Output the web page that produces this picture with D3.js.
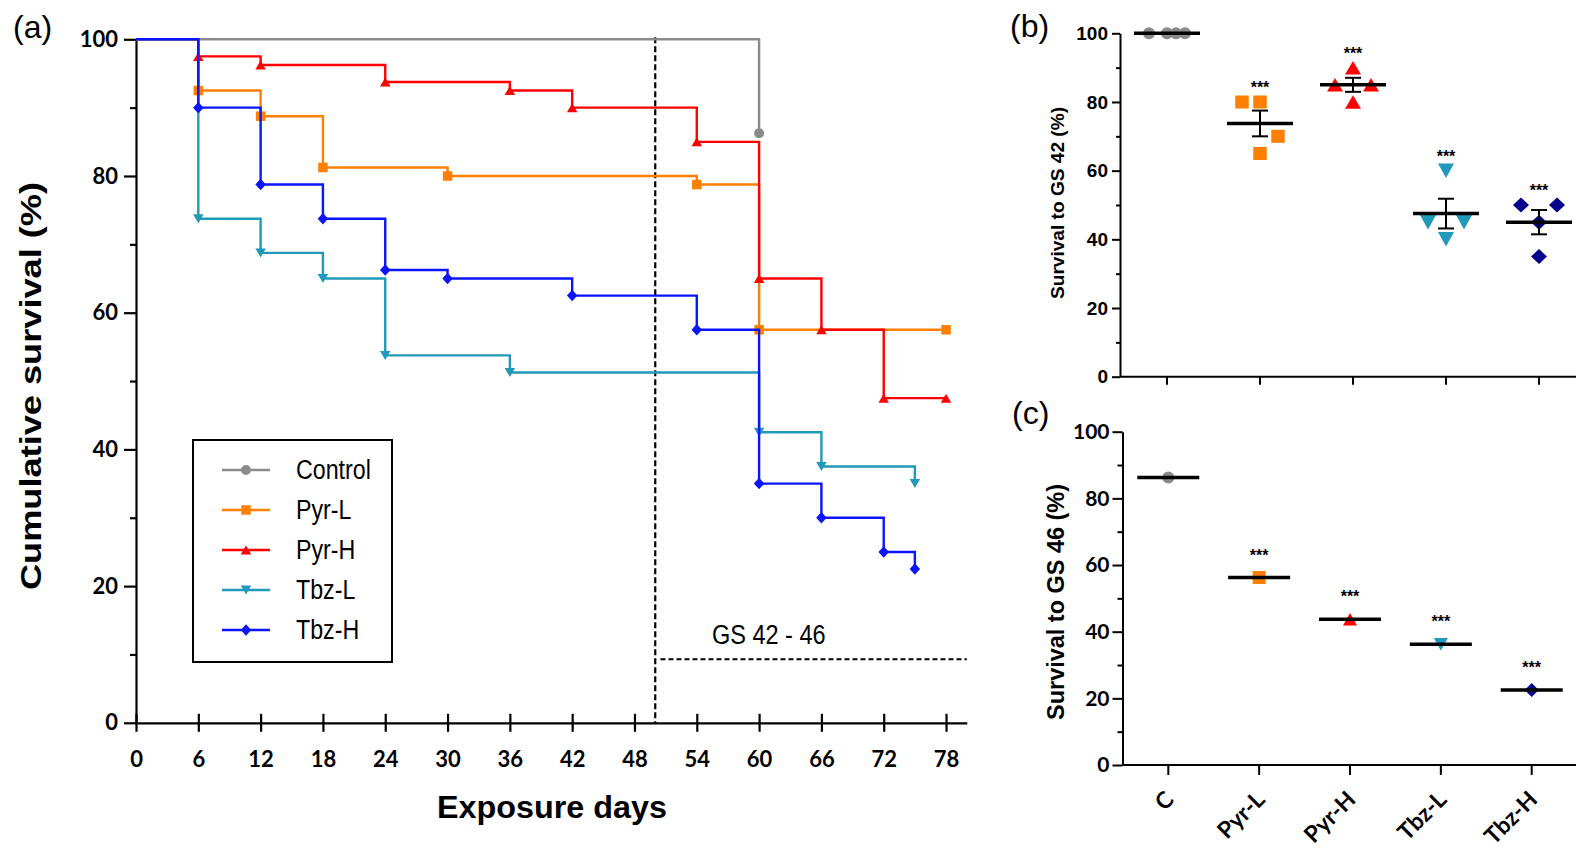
<!DOCTYPE html>
<html><head><meta charset="utf-8">
<script src="https://cdn.jsdelivr.net/npm/d3@7"></script>
<style>body{margin:0;background:#fff} svg{display:block}</style>
</head><body>
<svg id="chart" width="1576" height="848"></svg>
<script>
// ---------------- DATA ----------------
const seriesNames = ["Control", "Pyr-L", "Pyr-H", "Tbz-L", "Tbz-H"];
const controlDays = [0, 60];
const controlSurv = [100, 86.25];
const pyrLDays = [0, 6, 12, 18, 30, 54, 60, 78];
const pyrLSurv = [100, 92.5, 88.75, 81.25, 80, 78.75, 57.5, 57.5];
const pyrHDays = [0, 6, 12, 24, 36, 42, 54, 60, 66, 72, 78];
const pyrHSurv = [100, 97.5, 96.25, 93.75, 92.5, 90, 85, 65, 57.5, 47.5, 47.5];
const tbzLDays = [0, 6, 12, 18, 24, 36, 60, 66, 75];
const tbzLSurv = [100, 73.75, 68.75, 65, 53.75, 51.25, 42.5, 37.5, 35];
const tbzHDays = [0, 6, 12, 18, 24, 30, 42, 54, 60, 66, 72, 75];
const tbzHSurv = [100, 90, 78.75, 73.75, 66.25, 65, 62.5, 57.5, 35, 30, 25, 22.5];
const dayTicks = [0, 6, 12, 18, 24, 30, 36, 42, 48, 54, 60, 66, 72, 78];
const survTicks = [0, 20, 40, 60, 80, 100];
const gsStartDay = 50;
const gsLabel = "GS 42 - 46";

const groups = ["C", "Pyr-L", "Pyr-H", "Tbz-L", "Tbz-H"];
const gs42C = [100, 100, 100, 100];
const gs42PyrL = [80, 80, 70, 65];
const gs42PyrH = [90, 85, 85, 80];
const gs42TbzL = [60, 45, 45, 40];
const gs42TbzH = [50, 50, 45, 35];
// jitter slots (GraphPad scatter spreading of replicate points)
const slotsC = [-1, 0, 0.5, 1];
const slotsPyrL = [-1, 0, 1, 0];
const slotsPyrH = [0, -1, 1, 0];
const slotsTbzL = [0, -1, 1, 0];
const slotsTbzH = [-1, 1, 0, 0];
const gs46 = [86.25, 56.25, 43.75, 36.25, 22.5];
const sigLabels = ["", "***", "***", "***", "***"];

// ---------------- STYLE ----------------
const colorsA = ["#8a8a8a", "#ff8000", "#ff0000", "#2199b8", "#0a14ff"];
const colorsBC = ["#8a8a8a", "#ff8000", "#ff0000", "#2199b8", "#00008b"];
const shapes = ["circle", "square", "triUp", "triDown", "diamond"];
const ARIAL = "'Liberation Sans', Arial, Helvetica, sans-serif";
const CAL = "Lato, 'Open Sans', 'Liberation Sans', sans-serif";

function shapePath(type, w, h) {
  const a = w / 2, b = h / 2;
  switch (type) {
    case "circle": return `M${a},0A${a},${a} 0 1,1 ${-a},0A${a},${a} 0 1,1 ${a},0Z`;
    case "square": return `M${-a},${-b}H${a}V${b}H${-a}Z`;
    case "triUp": return `M0,${-b}L${a},${b}L${-a},${b}Z`;
    case "triDown": return `M0,${b}L${a},${-b}L${-a},${-b}Z`;
    case "diamond": return `M0,${-b}L${a},0L0,${b}L${-a},0Z`;
  }
}
function condense(sel, f) {
  sel.each(function () {
    const w = this.getComputedTextLength();
    d3.select(this).attr("textLength", w * f).attr("lengthAdjust", "spacingAndGlyphs");
  });
}

const svg = d3.select("#chart");

// ================= PANEL (a) =================
const xA = d3.scaleLinear().domain([0, 80]).range([136, 966.8]);
const yA = d3.scaleLinear().domain([0, 100]).range([722.8, 39.3]);
const gA = svg.append("g");

const kmSeries = [
  { days: controlDays, surv: controlSurv },
  { days: pyrLDays, surv: pyrLSurv },
  { days: pyrHDays, surv: pyrHSurv },
  { days: tbzLDays, surv: tbzLSurv },
  { days: tbzHDays, surv: tbzHSurv }
];

// y axis
const yAxisA = d3.axisLeft(yA).tickValues(survTicks).tickSize(12).tickSizeOuter(0).tickPadding(6);
const gya = gA.append("g").attr("transform", `translate(${xA(0)},0)`).call(yAxisA);
gya.selectAll("text").attr("font-family", CAL).attr("font-weight", 700).attr("font-size", 22).attr("fill", "#000");
const gyaMin = gA.append("g").attr("transform", `translate(${xA(0)},0)`)
  .call(d3.axisLeft(yA).tickValues([10, 30, 50, 70, 90]).tickSize(6).tickFormat(""));
gyaMin.select(".domain").remove();

// x axis
const xAxisA = d3.axisBottom(xA).tickValues(dayTicks).tickSize(9).tickSizeOuter(0).tickPadding(0);
const gxa = gA.append("g").attr("transform", `translate(0,${yA(0)})`).call(xAxisA);
gxa.selectAll(".tick line").attr("y1", -9).attr("y2", 9);
gxa.selectAll("text").attr("font-family", CAL).attr("font-weight", 700).attr("font-size", 22)
  .attr("fill", "#000").attr("y", 44.5).attr("dy", null);
[gya, gyaMin, gxa].forEach(g => {
  g.selectAll("line,path").attr("stroke", "#000").attr("stroke-width", 2.2);
});

// dashed GS lines
gA.append("line").attr("x1", xA(gsStartDay)).attr("x2", xA(gsStartDay))
  .attr("y1", yA(100) - 2).attr("y2", yA(0))
  .attr("stroke", "#000").attr("stroke-width", 2.2).attr("stroke-dasharray", "6,3");
gA.append("line").attr("x1", xA(gsStartDay + 0.5)).attr("x2", xA(80))
  .attr("y1", yA(9.3)).attr("y2", yA(9.3))
  .attr("stroke", "#000").attr("stroke-width", 2).attr("stroke-dasharray", "5,3");
const gsT = gA.append("text").attr("x", 712).attr("y", 644).attr("font-family", ARIAL)
  .attr("font-size", 27).attr("fill", "#000").text(gsLabel);
condense(gsT, 0.87);

// lines
const lineA = d3.line().x(d => xA(d[0])).y(d => yA(d[1])).curve(d3.curveStepAfter);
const markerSizeA = [[10, 10], [9.5, 9.5], [10.5, 9], [10.5, 9], [10.5, 11.5]];
kmSeries.forEach((s, i) => {
  const pts = s.days.map((d, j) => [d, s.surv[j]]);
  gA.append("path").datum(pts).attr("d", lineA).attr("fill", "none")
    .attr("stroke", colorsA[i]).attr("stroke-width", 2.4);
  gA.selectAll(null).data(pts.slice(1)).enter().append("path")
    .attr("d", shapePath(shapes[i], markerSizeA[i][0], markerSizeA[i][1]))
    .attr("transform", d => `translate(${xA(d[0])},${yA(d[1])})`)
    .attr("fill", colorsA[i]);
});

// legend
const leg = gA.append("g");
leg.append("rect").attr("x", 193).attr("y", 440).attr("width", 199).attr("height", 222)
  .attr("fill", "#fff").attr("stroke", "#000").attr("stroke-width", 2);
seriesNames.forEach((n, i) => {
  const y = 470 + i * 40;
  leg.append("line").attr("x1", 222).attr("x2", 270).attr("y1", y).attr("y2", y)
    .attr("stroke", colorsA[i]).attr("stroke-width", 2.5);
  leg.append("path").attr("d", shapePath(shapes[i], markerSizeA[i][0], markerSizeA[i][1]))
    .attr("transform", `translate(246,${y})`).attr("fill", colorsA[i]);
  const t = leg.append("text").attr("x", 296).attr("y", y + 9).attr("font-family", ARIAL)
    .attr("font-size", 27).attr("fill", "#000").text(n);
  condense(t, 0.86);
});

// axis titles
gA.append("text").attr("transform", `translate(41,386) rotate(-90)`).attr("text-anchor", "middle")
  .attr("font-family", ARIAL).attr("font-weight", 700).attr("font-size", 29)
  .attr("textLength", 408).attr("lengthAdjust", "spacingAndGlyphs")
  .text("Cumulative survival (%)");
gA.append("text").attr("x", 552).attr("y", 818).attr("text-anchor", "middle")
  .attr("font-family", ARIAL).attr("font-weight", 700).attr("font-size", 31)
  .attr("textLength", 230).attr("lengthAdjust", "spacingAndGlyphs")
  .text("Exposure days");
svg.append("text").attr("x", 13).attr("y", 38).attr("font-family", ARIAL).attr("font-size", 32).text("(a)");

// ================= PANEL (b) =================
const yB = d3.scaleLinear().domain([0, 100]).range([376.7, 33.3]);
const xB = d3.scalePoint().domain(groups).range([1167, 1539]);
const axB = 1120, jit = 18;
const gB = svg.append("g");
const gyb = gB.append("g").attr("transform", `translate(${axB},0)`)
  .call(d3.axisLeft(yB).tickValues(survTicks).tickSize(8).tickSizeOuter(0).tickPadding(4));
gyb.selectAll("text").attr("font-family", ARIAL).attr("font-weight", 700).attr("font-size", 19).attr("fill", "#000");
const gybm = gB.append("g").attr("transform", `translate(${axB},0)`)
  .call(d3.axisLeft(yB).tickValues([10, 30, 50, 70, 90]).tickSize(4).tickFormat(""));
gybm.select(".domain").remove();
gB.append("line").attr("x1", axB).attr("x2", 1576).attr("y1", yB(0)).attr("y2", yB(0));
gB.selectAll(null).data(groups).enter().append("line")
  .attr("x1", d => xB(d)).attr("x2", d => xB(d)).attr("y1", yB(0)).attr("y2", yB(0) + 8);
gB.selectAll("line,path").attr("stroke", "#000").attr("stroke-width", 2);

const gs42Data = [gs42C, gs42PyrL, gs42PyrH, gs42TbzL, gs42TbzH];
const slots = [slotsC, slotsPyrL, slotsPyrH, slotsTbzL, slotsTbzH];
const markerSizeB = [[12, 12], [13.5, 13], [16, 13.5], [16, 14.5], [16, 15]];
gs42Data.forEach((vals, i) => {
  const cx = xB(groups[i]);
  const m = d3.mean(vals);
  const sem = d3.deviation(vals) / Math.sqrt(vals.length);
  vals.forEach((v, j) => {
    gB.append("path").attr("d", shapePath(shapes[i], markerSizeB[i][0], markerSizeB[i][1]))
      .attr("transform", `translate(${cx + slots[i][j] * jit},${yB(v)})`).attr("fill", colorsBC[i]);
  });
  gB.append("line").attr("x1", cx - 33).attr("x2", cx + 33).attr("y1", yB(m)).attr("y2", yB(m))
    .attr("stroke", "#000").attr("stroke-width", 3.5);
  if (sem > 0) {
    gB.append("line").attr("x1", cx).attr("x2", cx).attr("y1", yB(m + sem)).attr("y2", yB(m - sem))
      .attr("stroke", "#000").attr("stroke-width", 2);
    [m + sem, m - sem].forEach(e => gB.append("line").attr("x1", cx - 8).attr("x2", cx + 8)
      .attr("y1", yB(e)).attr("y2", yB(e)).attr("stroke", "#000").attr("stroke-width", 2));
  }
  if (sigLabels[i]) {
    gB.append("text").attr("x", cx).attr("y", yB(d3.max(vals)) - 18 + 9).attr("text-anchor", "middle")
      .attr("font-family", ARIAL).attr("font-weight", 700).attr("font-size", 16).text(sigLabels[i]);
  }
});
gB.append("text").attr("transform", `translate(1064,203) rotate(-90)`).attr("text-anchor", "middle")
  .attr("font-family", ARIAL).attr("font-weight", 700).attr("font-size", 19)
  .attr("textLength", 192).attr("lengthAdjust", "spacingAndGlyphs")
  .text("Survival to GS 42 (%)");
svg.append("text").attr("x", 1010).attr("y", 36.5).attr("font-family", ARIAL).attr("font-size", 32).text("(b)");

// ================= PANEL (c) =================
const yC = d3.scaleLinear().domain([0, 100]).range([765, 431.7]);
const xC = d3.scalePoint().domain(groups).range([1168.3, 1531.7]);
const axC = 1122.5;
const gC = svg.append("g");
const gyc = gC.append("g").attr("transform", `translate(${axC},0)`)
  .call(d3.axisLeft(yC).tickValues(survTicks).tickSize(10).tickSizeOuter(0).tickPadding(3));
gyc.selectAll("text").attr("font-family", CAL).attr("font-weight", 700).attr("font-size", 21).attr("fill", "#000");
const gycm = gC.append("g").attr("transform", `translate(${axC},0)`)
  .call(d3.axisLeft(yC).tickValues([10, 30, 50, 70, 90]).tickSize(5).tickFormat(""));
gycm.select(".domain").remove();
gC.append("line").attr("x1", axC).attr("x2", 1576).attr("y1", yC(0)).attr("y2", yC(0));
gC.selectAll(null).data(groups).enter().append("line")
  .attr("x1", d => xC(d)).attr("x2", d => xC(d)).attr("y1", yC(0)).attr("y2", yC(0) + 10);
gC.selectAll("line,path").attr("stroke", "#000").attr("stroke-width", 2);
gC.selectAll(null).data(groups).enter().append("text")
  .attr("transform", d => `translate(${xC(d) + 7},${yC(0) + 36}) rotate(-45)`)
  .attr("text-anchor", "end").attr("font-family", CAL).attr("font-weight", 700).attr("font-size", 23)
  .text(d => d);

const markerSizeC = [[12, 12], [13, 13], [14, 12.5], [14, 12.5], [14, 14]];
gs46.forEach((v, i) => {
  const cx = xC(groups[i]);
  gC.append("path").attr("d", shapePath(shapes[i], markerSizeC[i][0], markerSizeC[i][1]))
    .attr("transform", `translate(${cx},${yC(v)})`).attr("fill", colorsBC[i]);
  gC.append("line").attr("x1", cx - 31).attr("x2", cx + 31).attr("y1", yC(v)).attr("y2", yC(v))
    .attr("stroke", "#000").attr("stroke-width", 3.5);
  if (sigLabels[i]) {
    gC.append("text").attr("x", cx).attr("y", yC(v) - 26 + 9).attr("text-anchor", "middle")
      .attr("font-family", ARIAL).attr("font-weight", 700).attr("font-size", 16).text(sigLabels[i]);
  }
});
gC.append("text").attr("transform", `translate(1064,602) rotate(-90)`).attr("text-anchor", "middle")
  .attr("font-family", ARIAL).attr("font-weight", 700).attr("font-size", 23)
  .attr("textLength", 236).attr("lengthAdjust", "spacingAndGlyphs")
  .text("Survival to GS 46 (%)");
svg.append("text").attr("x", 1012).attr("y", 423.5).attr("font-family", ARIAL).attr("font-size", 32).text("(c)");
</script>
</body></html>
